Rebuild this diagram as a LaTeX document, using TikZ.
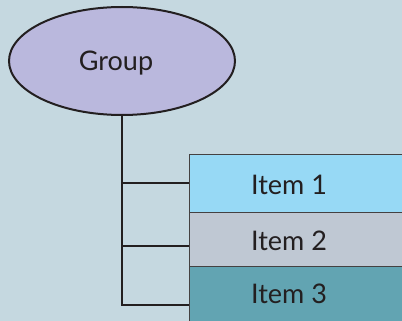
\documentclass[tikz,border=0pt]{standalone}
\usepackage{fontspec}
\setmainfont{Lato}
\usetikzlibrary{shapes.geometric}
\definecolor{bg}{HTML}{C5D8E0}
\definecolor{grp}{HTML}{BAB8DD}
\definecolor{ia}{HTML}{97D9F5}
\definecolor{ib}{HTML}{BFC8D3}
\definecolor{ic}{HTML}{62A4B2}
\definecolor{ink}{HTML}{231F20}
\tikzset{
  box/.style={draw=ink!85, line width=1.2pt, minimum width=240pt, anchor=north west, inner sep=0pt},
  lbl/.style={text=ink, font=\fontsize{27}{31}\selectfont},
  conn/.style={draw=ink, line width=2pt},
}
\begin{document}
\begin{tikzpicture}[x=1pt,y=-1pt]
\fill[bg] (0,0) rectangle (402,321);
\useasboundingbox (0,0) rectangle (402,321);
\node[ellipse, draw=ink, line width=2pt, fill=grp, minimum width=226pt, minimum height=108pt, inner sep=0pt] (g) at (122,61) {};
\node[lbl] (gt) at (116,63) {Group};
\node[box, fill=ia, minimum height=58pt] (i1) at (189,154) {};
\node[box, fill=ib, minimum height=54pt] (i2) at (189,212) {};
\node[box, fill=ic, minimum height=60pt] (i3) at (189,266) {};
\node[lbl] (t1) at (289,185) {Item 1};
\node[lbl] (t2) at (289,241) {Item 2};
\node[lbl] (t3) at (289,294) {Item 3};
\coordinate (c1) at (189,183);
\coordinate (c2) at (189,246);
\coordinate (c3) at (189,305);
\draw[conn] (g.south) -- (g.south |- c3) -- (c3);
\draw[conn] (g.south |- c1) -- (c1);
\draw[conn] (g.south |- c2) -- (c2);
\end{tikzpicture}
\end{document}
